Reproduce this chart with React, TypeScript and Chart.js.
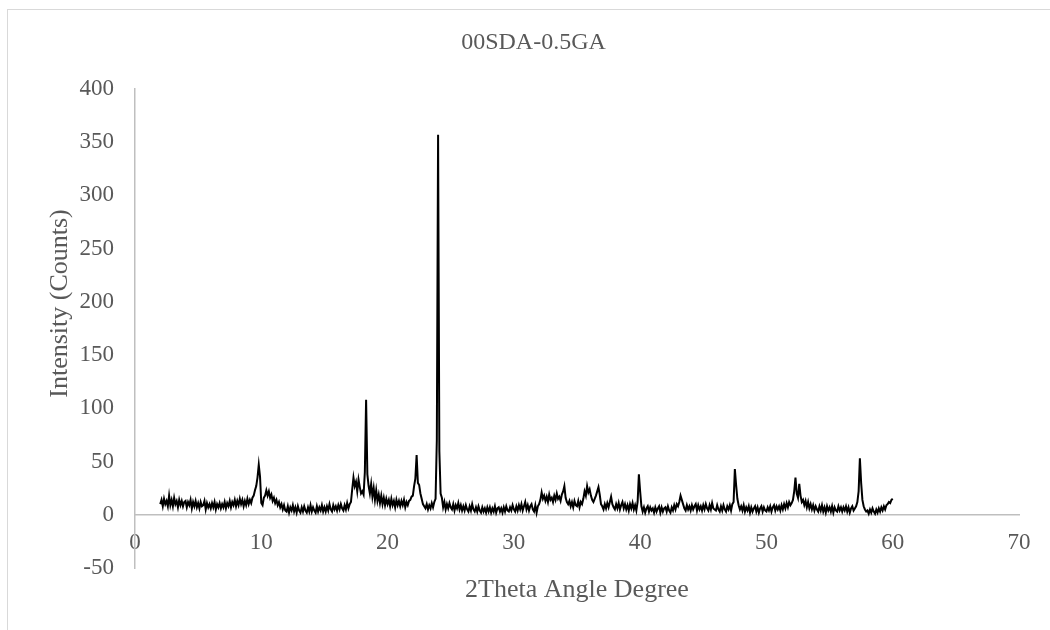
import { useEffect, useRef } from "react";
import { Chart, registerables } from "chart.js";

Chart.register(...registerables);

// ---- text ----
const chartTitle = "00SDA-0.5GA";
const xAxisTitle = "2Theta Angle Degree";
const yAxisTitle = "Intensity (Counts)";

// ---- axes ----
const xMin = 0;
const xMax = 70;
const xStep = 10;
const yMin = -50;
const yMax = 400;
const yStep = 50;

// ---- scan (2θ) ----
const scanStart = 2.0;
const scanStep = 0.1;

const counts02to07 = [
  10, 14, 8, 15, 10, 13, 8, 18, 9, 14,
  8, 16, 10, 13, 7, 14, 9, 13, 8, 12,
  13, 7, 12, 9, 14, 6, 12, 8, 13, 7,
  11, 6, 12, 8, 9, 13, 5, 11, 7, 10,
  6, 11, 7, 12, 5, 10, 7, 11, 6, 10,
];
const counts07to12 = [
  7, 12, 6, 11, 8, 13, 7, 12, 9, 14,
  8, 13, 9, 15, 10, 14, 8, 13, 9, 15,
  10, 14, 11, 16, 18, 23, 27, 35, 47, 36,
  11, 9, 16, 18, 23, 18, 22, 16, 19, 13,
  16, 11, 14, 9, 12, 7, 10, 5, 9, 4,
];
const counts12to17 = [
  3, 8, 2, 7, 4, 9, 3, 7, 2, 8,
  4, 2, 7, 3, 8, 4, 2, 7, 3, 9,
  3, 7, 4, 2, 8, 3, 7, 4, 9, 3,
  7, 3, 8, 4, 10, 5, 3, 9, 5, 8,
  4, 9, 5, 10, 6, 4, 9, 5, 11, 6,
];
const counts17to22 = [
  10, 12, 24, 35, 27, 31, 22, 33, 26, 20,
  22, 19, 40, 108, 38, 27, 20, 29, 17, 25,
  14, 23, 13, 19, 11, 18, 10, 16, 9, 15,
  10, 14, 8, 15, 9, 13, 7, 14, 9, 13,
  8, 13, 9, 14, 7, 12, 9, 13, 14, 17,
];
const counts22to27 = [
  18, 27, 34, 56, 30, 28, 20, 15, 10, 8,
  6, 10, 5, 9, 6, 11, 7, 12, 15, 70,
  357, 60, 20, 16, 7, 12, 5, 10, 6, 11,
  7, 5, 10, 4, 9, 6, 11, 5, 9, 4,
  8, 4, 9, 5, 3, 8, 4, 10, 5, 3,
];
const counts27to32 = [
  7, 3, 8, 4, 2, 7, 3, 6, 2, 7,
  3, 7, 2, 6, 3, 8, 2, 6, 7, 3,
  6, 2, 7, 3, 8, 4, 3, 7, 4, 9,
  5, 3, 8, 4, 9, 5, 10, 4, 8, 12,
  5, 9, 4, 8, 10, 5, 3, 9, 2, 8,
];
const counts32to37 = [
  10, 14, 21, 15, 18, 13, 17, 12, 19, 14,
  16, 12, 18, 14, 20, 15, 17, 13, 19, 22,
  27, 16, 12, 10, 13, 8, 12, 7, 13, 9,
  8, 13, 7, 12, 10, 15, 22, 18, 27, 21,
  24, 18, 14, 12, 15, 18, 22, 26, 19, 10,
];
const counts37to42 = [
  8, 5, 10, 6, 11, 7, 12, 17, 10, 7,
  5, 10, 6, 11, 5, 9, 12, 6, 10, 5,
  9, 4, 10, 6, 11, 5, 9, 4, 12, 38,
  22, 8, 3, 7, 2, 6, 8, 3, 7, 4,
  6, 2, 7, 3, 6, 8, 2, 7, 3, 6,
];
const counts42to47 = [
  7, 3, 8, 4, 2, 7, 4, 9, 5, 10,
  8, 12, 18, 14, 10, 6, 4, 9, 5, 8,
  4, 9, 5, 8, 10, 4, 9, 5, 8, 4,
  9, 5, 10, 6, 4, 9, 5, 11, 6, 5,
  4, 9, 5, 3, 8, 4, 9, 5, 3, 8,
];
const counts47to52 = [
  5, 9, 4, 10, 12, 43, 28, 15, 9, 5,
  8, 4, 9, 3, 7, 4, 8, 2, 7, 3,
  6, 8, 3, 7, 2, 6, 8, 3, 7, 4,
  3, 7, 4, 8, 3, 7, 9, 4, 8, 5,
  8, 4, 9, 5, 10, 6, 11, 7, 12, 9,
];
const counts52to57 = [
  11, 14, 22, 35, 20, 16, 29, 18, 12, 14,
  9, 13, 7, 12, 6, 10, 5, 9, 4, 8,
  5, 3, 8, 4, 9, 3, 7, 2, 8, 4,
  7, 3, 8, 2, 7, 4, 3, 8, 4, 7,
  3, 7, 4, 8, 3, 7, 2, 6, 8, 4,
];
const counts57to60 = [
  6, 8, 12, 22, 53, 30, 14, 8, 5, 3,
  4, 1, 5, 2, 6, 3, 1, 5, 2, 6,
  3, 7, 4, 8, 5, 9, 10, 12, 11, 14,
  15,
];

const intensity = [
  ...counts02to07,
  ...counts07to12,
  ...counts12to17,
  ...counts17to22,
  ...counts22to27,
  ...counts27to32,
  ...counts32to37,
  ...counts37to42,
  ...counts42to47,
  ...counts47to52,
  ...counts52to57,
  ...counts57to60,
];

const FONT = "'Liberation Serif', 'Times New Roman', Times, serif";
const TEXT = "#595959";
const AXIS = "#bfbfbf";

const titlesPlugin = {
  id: "excelTitles",
  afterDraw(chart: any) {
    const { ctx, chartArea } = chart;
    ctx.save();
    ctx.fillStyle = TEXT;
    ctx.textAlign = "center";
    ctx.textBaseline = "middle";
    // chart title (centred on the chart frame)
    ctx.font = `24px ${FONT}`;
    ctx.fillText(chartTitle, 533.5, 43);
    // x axis title
    ctx.font = `26px ${FONT}`;
    ctx.fillText(xAxisTitle, (chartArea.left + chartArea.right) / 2, chartArea.bottom + 22);
    // y axis title
    ctx.translate(60, (chartArea.top + chartArea.bottom) / 2 - 25);
    ctx.rotate(-Math.PI / 2);
    ctx.fillText(yAxisTitle, 0, 0);
    ctx.restore();
  },
};

export default function App() {
  const ref = useRef<HTMLCanvasElement | null>(null);

  useEffect(() => {
    if (!ref.current) return;
    const points = intensity.map((v, i) => ({
      x: Math.round((scanStart + i * scanStep) * 10) / 10,
      y: v,
    }));
    const chart = new Chart(ref.current, {
      type: "line",
      data: {
        datasets: [
          {
            label: chartTitle,
            data: points,
            borderColor: "#000000",
            borderWidth: 2,
            pointRadius: 0,
            tension: 0,
            fill: false,
          },
        ],
      },
      options: {
        responsive: false,
        animation: false,
        events: [],
        layout: { padding: { left: 0, right: 31, top: 89, bottom: 62 } },
        plugins: {
          legend: { display: false },
          title: { display: false },
          tooltip: { enabled: false },
        },
        scales: {
          x: {
            type: "linear",
            min: xMin,
            max: xMax,
            position: { y: 0 } as any,
            grid: { display: false, drawTicks: false },
            border: { display: true, color: AXIS, width: 1.5 },
            ticks: {
              stepSize: xStep,
              color: TEXT,
              font: { family: FONT, size: 23 },
              padding: 14,
              maxRotation: 0,
            },
          },
          y: {
            type: "linear",
            min: yMin,
            max: yMax,
            position: "left",
            afterFit: (scale: any) => {
              scale.width = 135;
            },
            grid: { display: false, drawTicks: false },
            border: { display: true, color: AXIS, width: 1.5 },
            ticks: {
              stepSize: yStep,
              color: TEXT,
              font: { family: FONT, size: 23 },
              padding: 21,
            },
          },
        },
      },
      plugins: [titlesPlugin],
    });
    return () => chart.destroy();
  }, []);

  return (
    <div
      style={{
        position: "fixed",
        left: 0,
        top: 0,
        width: 1050,
        height: 630,
        background: "#ffffff",
        overflow: "hidden",
      }}
    >
      <div
        style={{
          position: "absolute",
          left: 7,
          top: 9,
          width: 1060,
          height: 640,
          border: "1px solid #d9d9d9",
          boxSizing: "border-box",
        }}
      />
      <canvas
        ref={ref}
        width={1050}
        height={630}
        style={{ position: "absolute", left: 0, top: 0, width: 1050, height: 630 }}
      />
    </div>
  );
}
